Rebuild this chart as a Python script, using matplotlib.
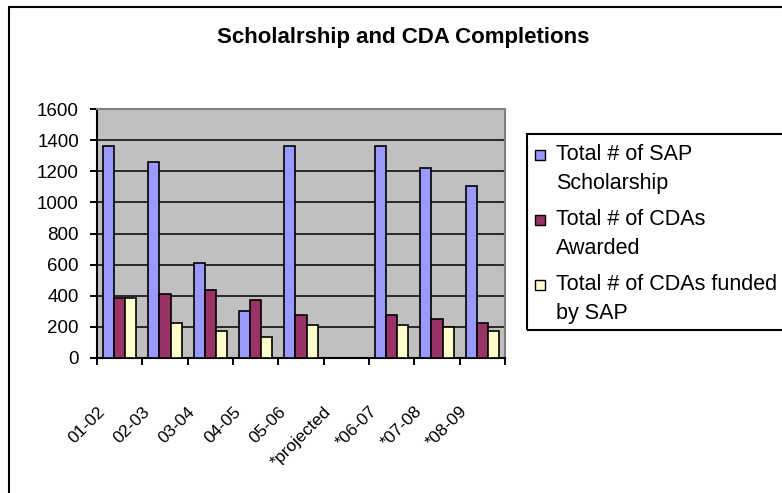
import numpy as np
import matplotlib
matplotlib.use("Agg")
import matplotlib.pyplot as plt
from matplotlib.patches import Rectangle

plt.rcParams['font.family'] = ['Liberation Sans', 'DejaVu Sans']

# ---- data ----
categories = ['01-02', '02-03', '03-04', '04-05', '05-06', '*projected', '*06-07', '*07-08', '*08-09']
sap_scholarship = [1365, 1260, 608, 303, 1365, np.nan, 1365, 1223, 1108]
cdas_awarded = [387, 411, 439, 374, 278, np.nan, 278, 253, 227]
cdas_funded = [387, 226, 176, 138, 214, np.nan, 214, 200, 174]
series_names = ['Total # of SAP\nScholarship', 'Total # of CDAs\nAwarded', 'Total # of CDAs funded\nby SAP']
series_colors = ['#9999FF', '#993366', '#FFFFCC']
yticks = [0, 200, 400, 600, 800, 1000, 1200, 1400, 1600]
title = 'Scholalrship and CDA Completions'

W, H = 782, 493
fig = plt.figure(figsize=(W / 100, H / 100), dpi=100)

def fx(px):
    return px / W

def fy(py):
    return 1 - py / H

# plot area
left, right, top, bottom = 97, 505, 109, 358
ax = fig.add_axes([fx(left), fy(bottom), fx(right - left), (bottom - top) / H])
ax.set_facecolor('#C0C0C0')

x = np.arange(len(categories))
bw = 0.243
all_series = [sap_scholarship, cdas_awarded, cdas_funded]
for k, (vals, col) in enumerate(zip(all_series, series_colors)):
    ax.bar(x + (k - 1) * bw, vals, width=bw, color=col, edgecolor='black', linewidth=1.2, zorder=3)

ax.set_xlim(-0.5, len(categories) - 0.5)
ax.set_ylim(0, 1600)
ax.set_yticks(yticks)
ax.set_yticklabels([str(v) for v in yticks], fontsize=13.5)
ax.yaxis.grid(True, color='black', linewidth=1.1, zorder=1)
ax.set_axisbelow(True)
ax.tick_params(axis='y', direction='out', length=5, width=1.4, pad=8, colors='black')

bounds = np.arange(len(categories) + 1) - 0.5
ax.set_xticks(bounds)
ax.set_xticklabels(categories + [''], fontsize=12.5, rotation=45, ha='right', va='top',
                   rotation_mode='anchor')
ax.tick_params(axis='x', direction='out', length=5, width=1.4, pad=28)

for s in ['left', 'bottom']:
    ax.spines[s].set_color('black')
    ax.spines[s].set_linewidth(1.5)
for s in ['top', 'right']:
    ax.spines[s].set_color('#808080')
    ax.spines[s].set_linewidth(1.5)

# title
fig.text(fx(403), fy(38), title, ha='center', va='center', fontsize=16, fontweight='bold')

# outer chart border
fig.add_artist(Rectangle((fx(9), -0.2), 1.5, fy(7) + 0.2, transform=fig.transFigure,
                         fill=False, edgecolor='black', linewidth=1.5))

# legend (manual)
fig.add_artist(Rectangle((fx(527), fy(330)), 0.5, (330 - 134) / H, transform=fig.transFigure,
                         fill=False, edgecolor='black', linewidth=1.5, zorder=5))
entry_y = [155, 220, 285]
for name, col, ey in zip(series_names, series_colors, entry_y):
    fig.add_artist(Rectangle((fx(535), fy(ey + 5)), 10 / W, 10 / H, transform=fig.transFigure,
                             facecolor=col, edgecolor='black', linewidth=1.0, zorder=6))
    lines = name.split('\n')
    for j, ln in enumerate(lines):
        fig.text(fx(556), fy(ey + j * 28.5), ln, ha='left', va='center', fontsize=15.5)

fig.savefig('out.png', dpi=100)
